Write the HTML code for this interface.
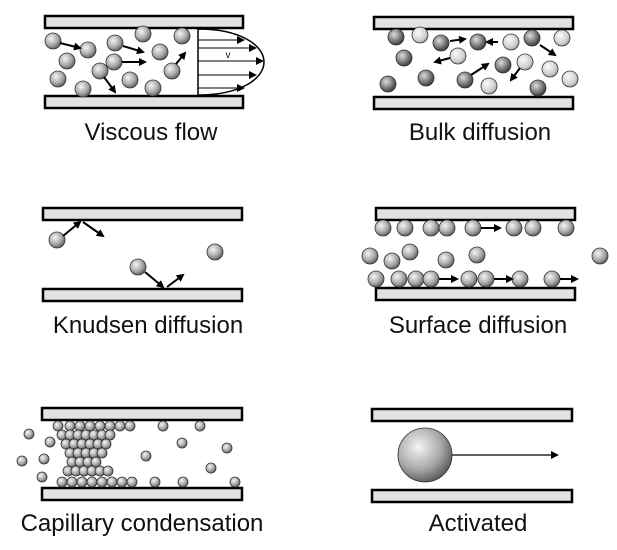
<!DOCTYPE html>
<html><head><meta charset="utf-8"><style>
html,body{margin:0;padding:0;background:#fff;}
svg{display:block;}
text{font-family:"Liberation Sans",Arial,sans-serif;font-size:24px;fill:#111;text-anchor:middle;}
</style></head><body>
<svg id="s" width="617" height="550" viewBox="0 0 617 550" xmlns="http://www.w3.org/2000/svg">
<defs>
<radialGradient id="g" cx="0.38" cy="0.35" r="0.7"><stop offset="0" stop-color="#f4f4f4"/><stop offset="0.6" stop-color="#a8a8a8"/><stop offset="1" stop-color="#555"/></radialGradient>
<radialGradient id="gl" cx="0.38" cy="0.35" r="0.7"><stop offset="0" stop-color="#fafafa"/><stop offset="0.7" stop-color="#cfcfcf"/><stop offset="1" stop-color="#999"/></radialGradient>
<radialGradient id="gd" cx="0.38" cy="0.35" r="0.7"><stop offset="0" stop-color="#ddd"/><stop offset="0.6" stop-color="#777"/><stop offset="1" stop-color="#333"/></radialGradient>
<marker id="ah" markerWidth="8" markerHeight="8" refX="6" refY="4" orient="auto" markerUnits="userSpaceOnUse"><path d="M0,0 L8,4 L0,8 Z" fill="#000"/></marker>
</defs>
<g id="root"></g>
<text x="151" y="140">Viscous flow</text>
<text x="480" y="140">Bulk diffusion</text>
<text x="148" y="333">Knudsen diffusion</text>
<text x="478" y="333">Surface diffusion</text>
<text x="142" y="531">Capillary condensation</text>
<text x="478" y="531">Activated</text>
</svg>
<script>
const NS="http://www.w3.org/2000/svg";
const root=document.getElementById('root');
function mk(tag,attrs,name){const e=document.createElementNS(NS,tag);for(const k in attrs)e.setAttribute(k,attrs[k]);


root.appendChild(e);return e;}
function plate(x,y,w,n){mk('rect',{x:x,y:y,width:w,height:12,fill:'#e2e2e2',stroke:'#000','stroke-width':2.5},n);}
function ball(x,y,r,f,n){mk('circle',{cx:x,cy:y,r:r,fill:'url(#'+(f||'g')+')',stroke:'#333','stroke-width':0.8},n||'molecule');}
function arrow(x1,y1,x2,y2,w){mk('line',{x1:x1,y1:y1,x2:x2,y2:y2,stroke:'#000','stroke-width':w||2,'marker-end':'url(#ah)'},'arrow');}
// Viscous flow
plate(45,16,198,'viscous-top-plate');plate(45,96,198,'viscous-bottom-plate');
mk('path',{d:'M198,29 L198,95 M198,29 C240,29 264,45 264,62 C264,79 240,95 198,95',fill:'none',stroke:'#000','stroke-width':1.5},'velocity-profile');
[[40,243],[48,255],[61,262],[75,255],[88,243]].forEach(a=>arrow(198,a[0],a[1],a[0],1));
mk('text',{x:228,y:58,style:'font-size:10px'},'velocity-label').textContent='v';
[[53,41],[88,50],[67,61],[58,79],[83,89],[115,43],[143,34],[160,52],[114,62],[100,71],[130,80],[153,88],[172,71],[182,36]].forEach(p=>ball(p[0],p[1],8));
arrow(60,43,80,48);arrow(123,46,143,52);arrow(122,62,145,62);arrow(104,77,115,92);arrow(176,64,185,53);
// Bulk diffusion
plate(374,17,199,'bulk-top-plate');plate(374,97,199,'bulk-bottom-plate');
[[396,37],[441,43],[478,42],[404,58],[426,78],[465,80],[388,84],[503,65],[538,88],[532,38]].forEach(p=>ball(p[0],p[1],8,'gd'));
[[420,35],[511,42],[562,38],[458,56],[525,62],[550,69],[570,79],[489,86]].forEach(p=>ball(p[0],p[1],8,'gl'));
arrow(450,41,465,39);arrow(498,42,487,42);arrow(450,58,435,62);arrow(471,75,488,64);arrow(540,45,555,55);arrow(520,68,511,80);
// Knudsen
plate(43,208,199,'knudsen-top-plate');plate(43,289,199,'knudsen-bottom-plate');
ball(57,240,8);ball(215,252,8);ball(138,267,8);
arrow(63,236,80,222);arrow(83,222,103,236);arrow(145,272,163,287);arrow(167,287,183,275);
// Surface diffusion
plate(376,208,199,'surface-top-plate');plate(376,288,199,'surface-bottom-plate');
[383,405,431,447,473,514,533,566].forEach(x=>ball(x,228,8));
[376,399,416,431,469,486,520,552].forEach(x=>ball(x,279,8));
[[370,256],[392,261],[410,252],[446,260],[477,255],[600,256]].forEach(p=>ball(p[0],p[1],8));
arrow(481,228,500,228);arrow(439,279,457,279);arrow(494,279,512,279);arrow(560,279,577,279);
// Capillary condensation
plate(42,408,200,'capillary-top-plate');plate(42,488,200,'capillary-bottom-plate');
[58,70,80,90,100,110,120,130,163,200].forEach(x=>ball(x,426,5));
[62,72,82,92,102,112,122,132,155,183,235].forEach(x=>ball(x,482,5));
[[62,110,435],[66,106,444],[70,104,453],[72,102,462],[68,110,471]].forEach(r=>{for(let x=r[0];x<=r[1];x+=8)ball(x,r[2],5);});
[[29,434],[50,442],[22,461],[44,459],[42,477],[146,456],[182,443],[211,468],[227,448]].forEach(p=>ball(p[0],p[1],5));
// Activated
plate(372,409,200,'activated-top-plate');plate(372,490,200,'activated-bottom-plate');
ball(425,455,27);
arrow(452,455,557,455,1.2);
</script>
</body></html>
